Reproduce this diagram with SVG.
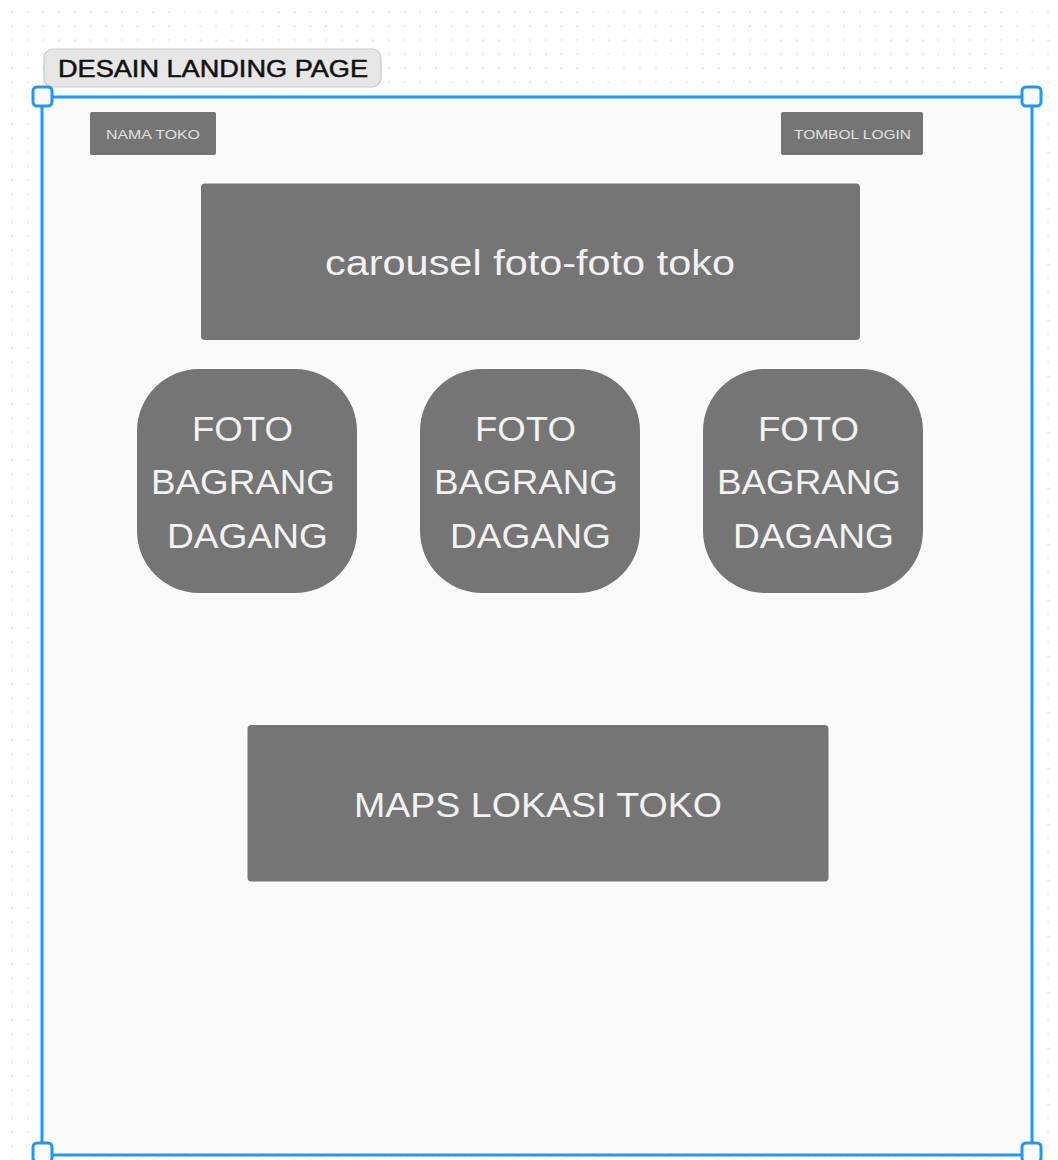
<svg xmlns="http://www.w3.org/2000/svg" width="1058" height="1160" viewBox="0 0 1058 1160">
<style>
.box{fill:#757575}
.t{font-family:"Liberation Sans",Arial,sans-serif;fill:#f2f2f2;text-anchor:middle}
.sm{font-size:13.5px;fill:#e0e0e0}
.lg{font-size:35px}
.handle{fill:#fafafa;stroke:#2196f3;stroke-width:3}
</style>
<defs>
<pattern id="dots" x="11" y="11.5" width="15.7" height="14" patternUnits="userSpaceOnUse">
<rect x="0" y="0" width="2" height="1.5" fill="#dedede"/>
</pattern>
</defs>
<rect width="1058" height="1160" fill="#ffffff"/>
<rect width="1058" height="1160" fill="url(#dots)"/>
<g id="title">
<rect x="44" y="49" width="337" height="38" rx="9" fill="#e6e6e6" stroke="#c9c9c9" stroke-width="1.2"/>
<text x="213" y="77" font-family="Liberation Sans,Arial,sans-serif" font-size="23" fill="#111" stroke="#111" stroke-width="0.5" text-anchor="middle" textLength="310" lengthAdjust="spacingAndGlyphs">DESAIN LANDING PAGE</text>
</g>
<g id="frame">
<rect x="42" y="97" width="990" height="1058" fill="#fafafa" stroke="#2196f3" stroke-width="3"/>
<rect class="handle" x="33" y="87" width="19" height="19" rx="4"/>
<rect class="handle" x="1022" y="87" width="19" height="19" rx="4"/>
<rect class="handle" x="33" y="1143" width="19" height="19" rx="4"/>
<rect class="handle" x="1022" y="1143" width="19" height="19" rx="4"/>
</g>
<g id="nama-toko">
<rect class="box" x="90" y="112" width="126" height="43" rx="2"/>
<text class="t sm" x="153" y="139" textLength="94" lengthAdjust="spacingAndGlyphs">NAMA TOKO</text>
</g>
<g id="tombol-login">
<rect class="box" x="781" y="112" width="142" height="43" rx="2"/>
<text class="t sm" x="852.5" y="139" textLength="117" lengthAdjust="spacingAndGlyphs">TOMBOL LOGIN</text>
</g>
<g id="carousel">
<rect class="box" x="201" y="183.5" width="659" height="156.5" rx="4"/>
<text class="t lg" x="530" y="275" textLength="410" lengthAdjust="spacingAndGlyphs">carousel foto-foto toko</text>
</g>
<g id="foto1">
<rect class="box" x="137" y="369" width="220" height="224" rx="62"/>
<text class="t lg" x="242.5" y="441" textLength="101" lengthAdjust="spacingAndGlyphs">FOTO</text>
<text class="t lg" x="243" y="494" textLength="184" lengthAdjust="spacingAndGlyphs">BAGRANG</text>
<text class="t lg" x="247.5" y="548" textLength="161" lengthAdjust="spacingAndGlyphs">DAGANG</text>
</g>
<g id="foto2">
<rect class="box" x="420" y="369" width="220" height="224" rx="62"/>
<text class="t lg" x="525.5" y="441" textLength="101" lengthAdjust="spacingAndGlyphs">FOTO</text>
<text class="t lg" x="526" y="494" textLength="184" lengthAdjust="spacingAndGlyphs">BAGRANG</text>
<text class="t lg" x="530.5" y="548" textLength="161" lengthAdjust="spacingAndGlyphs">DAGANG</text>
</g>
<g id="foto3">
<rect class="box" x="703" y="369" width="220" height="224" rx="62"/>
<text class="t lg" x="808.5" y="441" textLength="101" lengthAdjust="spacingAndGlyphs">FOTO</text>
<text class="t lg" x="809" y="494" textLength="184" lengthAdjust="spacingAndGlyphs">BAGRANG</text>
<text class="t lg" x="813.5" y="548" textLength="161" lengthAdjust="spacingAndGlyphs">DAGANG</text>
</g>
<g id="maps">
<rect class="box" x="247.5" y="725" width="581" height="156.5" rx="4"/>
<text class="t lg" x="538" y="817" textLength="368" lengthAdjust="spacingAndGlyphs">MAPS LOKASI TOKO</text>
</g>
<g id="connectors"></g>
</svg>
